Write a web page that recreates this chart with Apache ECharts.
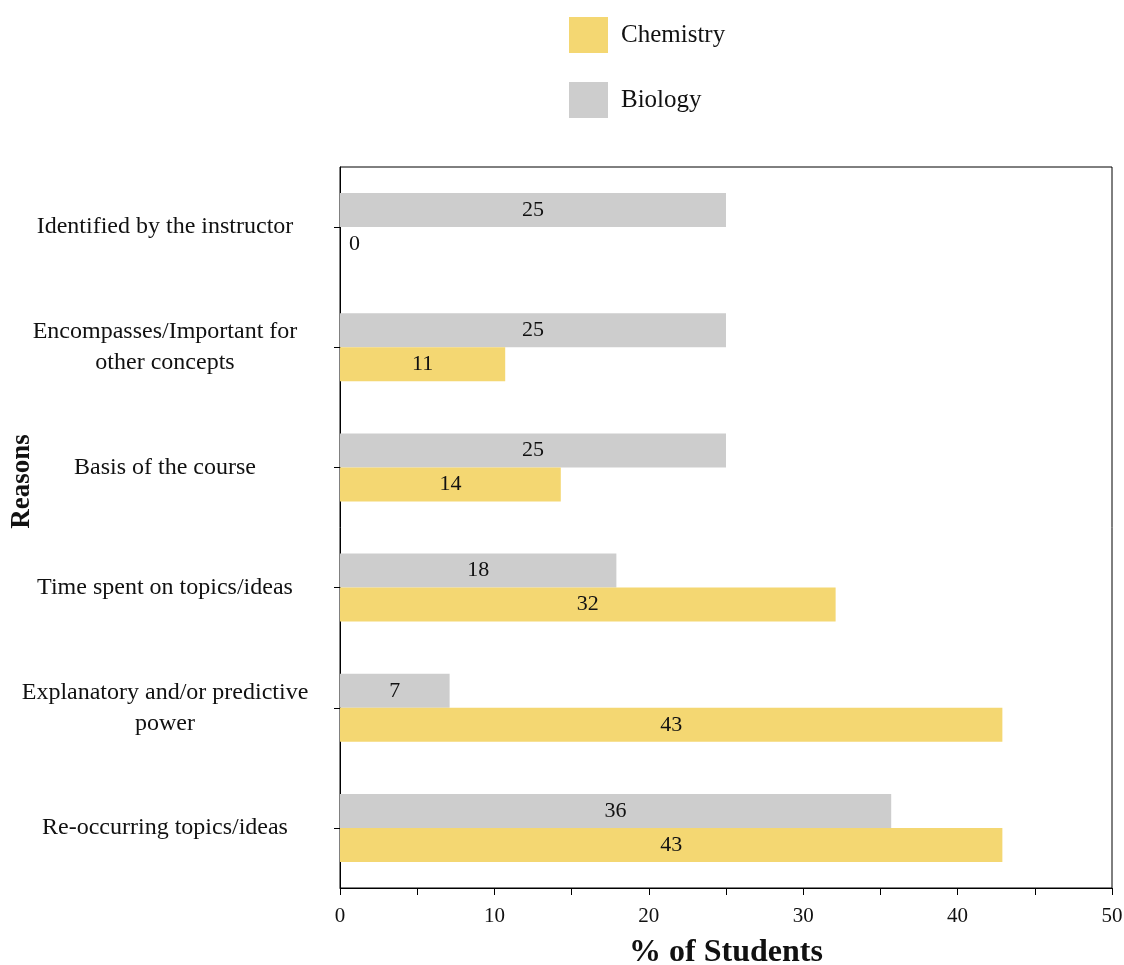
<!DOCTYPE html>
<html>
<head>
<meta charset="utf-8">
<script src="https://cdn.jsdelivr.net/npm/echarts@6/dist/echarts.min.js"></script>
<style>html,body{margin:0;padding:0;background:#fff}#c{width:1124px;height:965px}</style>
</head>
<body>
<div id="c"></div>
<script>
var categories = ['Identified by the instructor','Encompasses/Important for\nother concepts','Basis of the course','Time spent on topics/ideas','Explanatory and/or predictive\npower','Re-occurring topics/ideas'];
var chemistry = [0, 10.7, 14.3, 32.1, 42.9, 42.9];
var biology = [25, 25, 25, 17.9, 7.1, 35.7];
var xTicks = [0, 10, 20, 30, 40, 50];

var FONT = '"Liberation Serif", "DejaVu Serif", serif';
var cats = categories.slice().reverse();
function mk(arr){
  return arr.slice().reverse().map(function(v){
    var d = {value: v};
    if (v === 0) d.label = {position: 'insideLeft', offset:[4,0]};
    return d;
  });
}
var labelCfg = {show:true, position:'inside', color:'#111', fontFamily:FONT, fontSize:22,
  formatter:function(p){return Math.round(p.value);}};
var chart = echarts.init(document.getElementById('c'));
chart.setOption({
  animation:false,
  textStyle:{fontFamily:FONT},
  legend:{orient:'vertical', left:564, top:12, itemWidth:39, itemHeight:36, itemGap:29, icon:'rect',
    textStyle:{fontFamily:FONT, fontSize:25, color:'#111', padding:[0,0,0,8]},
    data:['Chemistry','Biology']},
  grid:{left:340, right:12, top:167, bottom:77, show:true, borderColor:'#000', borderWidth:1,
    containLabel:false, outerBoundsMode:'none'},
  xAxis:{type:'value', min:xTicks[0], max:xTicks[xTicks.length-1], interval:10,
    name:'% of Students', nameLocation:'middle', nameGap:49, nameMoveOverlap:false,
    nameTextStyle:{fontFamily:FONT, fontSize:32, fontWeight:'bold', color:'#111'},
    axisLine:{show:true, lineStyle:{color:'#000', width:1}},
    axisTick:{show:true, length:7, lineStyle:{color:'#000'}},
    minorTick:{show:true, splitNumber:2, length:7, lineStyle:{color:'#000'}},
    splitLine:{show:false},
    axisLabel:{fontFamily:FONT, fontSize:21, color:'#111', margin:18}},
  yAxis:{type:'category', data:cats,
    name:'Reasons', nameLocation:'middle', nameGap:304, nameRotate:90, nameMoveOverlap:false,
    nameTextStyle:{fontFamily:FONT, fontSize:27, fontWeight:'bold', color:'#111', padding:[0,0,0,92]},
    axisLine:{show:true, lineStyle:{color:'#000', width:1}},
    axisTick:{show:true, alignWithLabel:true, length:6, lineStyle:{color:'#000'}},
    axisLabel:{fontFamily:FONT, fontSize:24, color:'#111', align:'center', margin:175, lineHeight:31}},
  series:[
    {name:'Biology', type:'bar', data:mk(biology), barWidth:34, barGap:'0%',
     itemStyle:{color:'#CDCDCD'}, label:labelCfg},
    {name:'Chemistry', type:'bar', data:mk(chemistry), barWidth:34, barGap:'0%',
     itemStyle:{color:'#F4D772'}, label:labelCfg}
  ]
});
</script>
</body>
</html>
